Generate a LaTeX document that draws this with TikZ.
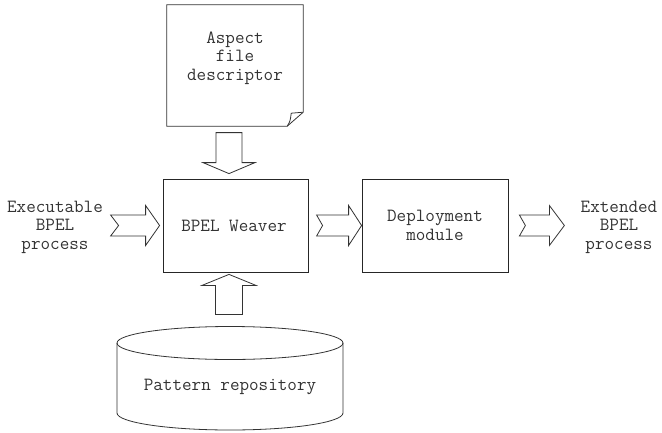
\documentclass[tikz,border=0pt]{standalone}
\usetikzlibrary{calc}

\tikzset{
  txt/.style={font=\ttfamily\fontsize{18.6}{18.5}\selectfont, text=black!80, align=center, inner sep=0pt},
  box/.style={draw=black!85, line width=0.8pt, rectangle, inner sep=0pt},
  outline/.style={draw=black!80, line width=0.8pt, line join=miter},
  blockarrow/.style={draw=black!80, line width=0.8pt, fill=white, line join=miter},
}

\begin{document}
\begin{tikzpicture}[x=1pt, y=-1pt]
  \useasboundingbox (0,0) rectangle (662,432);

  % processing blocks
  \node[box, minimum width=145pt, minimum height=93pt] (weaver) at (235.5,225.5) {};
  \node[txt] (weavertxt) at (234,225.5) {BPEL Weaver};
  \node[box, minimum width=146pt, minimum height=93pt] (deploy) at (435,225.5) {};
  \node[txt] (deploytxt) at (435,225.5) {Deployment\\module};

  % aspect descriptor page with curled corner
  \node[minimum width=136pt, minimum height=121pt, inner sep=0pt] (doc) at (235,65.5) {};
  \draw[outline] (doc.north west) -- (doc.north east) -- ($(doc.south east)+(0,-14)$)
        coordinate (fa) -- ($(doc.south east)+(-16,0)$) coordinate (fb) -- (doc.south west) -- cycle;
  \draw[outline] (fb) .. controls ($(fb)+(3,-5)$) .. ($(fb)+(4,-13)$) .. controls ($(fa)+(-6,0)$) .. (fa);
  \node[txt] (doctxt) at (235,58) {Aspect\\file\\descriptor};

  % pattern repository drum
  \coordinate (cyltop) at (230,343);
  \coordinate (cylbot) at (230,413);
  \draw[outline] (cyltop) ellipse [x radius=113pt, y radius=16.5pt];
  \draw[outline] ($(cyltop)+(-113,0)$) -- ($(cylbot)+(-113,0)$)
        arc[start angle=180, end angle=360, x radius=113pt, y radius=17pt]
        -- ($(cyltop)+(113,0)$);
  \node[txt] (repo) at (230,387) {Pattern repository};

  % side labels
  \node[txt] (inlbl) at (55,227) {Executable\\BPEL\\process};
  \node[txt] (outlbl) at (619,227) {Extended\\BPEL\\process};

  % block arrows between the parts
  \draw[blockarrow] ($(weaver.west)+(-3,0)$) -- ++(-14,-20) -- ++(0,9.5) -- ++(-35,0)
        -- ++(8,10.5) -- ++(-8,10.5) -- ++(35,0) -- ++(0,9.5) -- cycle;
  \draw[blockarrow] (deploy.west) -- ++(-13,-20) -- ++(0,9.5) -- ++(-32,0)
        -- ++(6,10.5) -- ++(-6,10.5) -- ++(32,0) -- ++(0,9.5) -- cycle;
  \draw[blockarrow] ($(deploy.east)+(56,0)$) -- ++(-15,-20) -- ++(0,9.5) -- ++(-30,0)
        -- ++(6,10.5) -- ++(-6,10.5) -- ++(30,0) -- ++(0,9.5) -- cycle;
  \draw[blockarrow] ($(weaver.north)+(-6.5,-5)$) -- ++(-26,-11) -- ++(13,0) -- ++(0,-30)
        -- ++(26,0) -- ++(0,30) -- ++(13,0) -- cycle;
  \draw[blockarrow] ($(weaver.south)+(-6.5,2)$) -- ++(-27,11) -- ++(13.5,0) -- ++(0,29)
        -- ++(27,0) -- ++(0,-29) -- ++(13.5,0) -- cycle;
\end{tikzpicture}
\end{document}
